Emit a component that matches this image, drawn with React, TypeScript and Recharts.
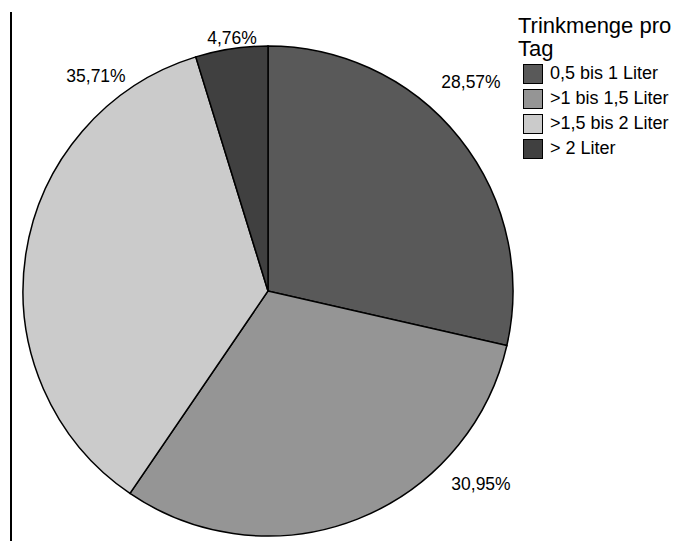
import React from "react";
import { PieChart, Pie, Cell, Legend } from "recharts";

// Daily drinking amount, share of respondents (percent)
const categories = ["0,5 bis 1 Liter", ">1 bis 1,5 Liter", ">1,5 bis 2 Liter", "> 2 Liter"];
const shares = [28.57, 30.95, 35.71, 4.76];
const sliceColors = ["#595959", "#959595", "#cbcbcb", "#404040"];
const legendTitle = ["Trinkmenge pro", "Tag"];

const data = categories.map((name, i) => ({ name, value: shares[i] }));

// Label anchor offsets from the pie centre, per slice
const LABEL_OFFSETS = [
  { dx: 203, dy: -209.5 },
  { dx: 213, dy: 192.5 },
  { dx: -172, dy: -215.5 },
  { dx: -36, dy: -253 },
];

const FONT = '"Liberation Sans", Arial, sans-serif';

const formatPct = (v: number) => `${v.toFixed(2).replace(".", ",")}%`;

const renderLabel = (props: any) => {
  const { cx, cy, index, value } = props;
  const off = LABEL_OFFSETS[index];
  return (
    <text
      x={cx + off.dx}
      y={cy + off.dy}
      textAnchor="middle"
      dominantBaseline="central"
      fontFamily={FONT}
      fontSize={17.5}
      fill="#000"
    >
      {formatPct(value)}
    </text>
  );
};

const LegendBox = () => (
  <div style={{ fontFamily: FONT, color: "#000" }}>
    <div style={{ fontSize: 22, lineHeight: "23px" }}>
      {legendTitle.map((t) => (
        <div key={t} style={{ whiteSpace: "nowrap" }}>{t}</div>
      ))}
    </div>
    <div style={{ marginTop: 1, paddingLeft: 4.5 }}>
      {categories.map((c, i) => (
        <div key={c} style={{ display: "flex", alignItems: "center", height: 25 }}>
          <div
            style={{
              width: 20,
              height: 20,
              boxSizing: "border-box",
              border: "1px solid #000",
              background: sliceColors[i],
              marginRight: 7.5,
            }}
          />
          <span style={{ fontSize: 18, whiteSpace: "nowrap" }}>{c}</span>
        </div>
      ))}
    </div>
  </div>
);

export default function App() {
  return (
    <div style={{ position: "relative", width: 679, height: 541, background: "#fff" }}>
      <style>{`body{margin:0;}`}</style>
      <div
        style={{
          position: "absolute",
          left: 10,
          top: 12,
          width: 2,
          height: 529,
          background: "#000",
        }}
      />
      <PieChart width={679} height={541} margin={{ top: 0, right: 0, bottom: 0, left: 0 }}>
        <Pie
          data={data}
          dataKey="value"
          nameKey="name"
          cx={268}
          cy={291}
          outerRadius={245}
          startAngle={90}
          endAngle={-270}
          stroke="#000"
          strokeWidth={1.5}
          label={renderLabel}
          labelLine={false}
          isAnimationActive={false}
        >
          {data.map((d, i) => (
            <Cell key={d.name} fill={sliceColors[i]} />
          ))}
        </Pie>
        <Legend
          content={() => <LegendBox />}
          wrapperStyle={{ position: "absolute", left: 518, top: 14, width: 161, bottom: "auto" }}
        />
      </PieChart>
    </div>
  );
}
